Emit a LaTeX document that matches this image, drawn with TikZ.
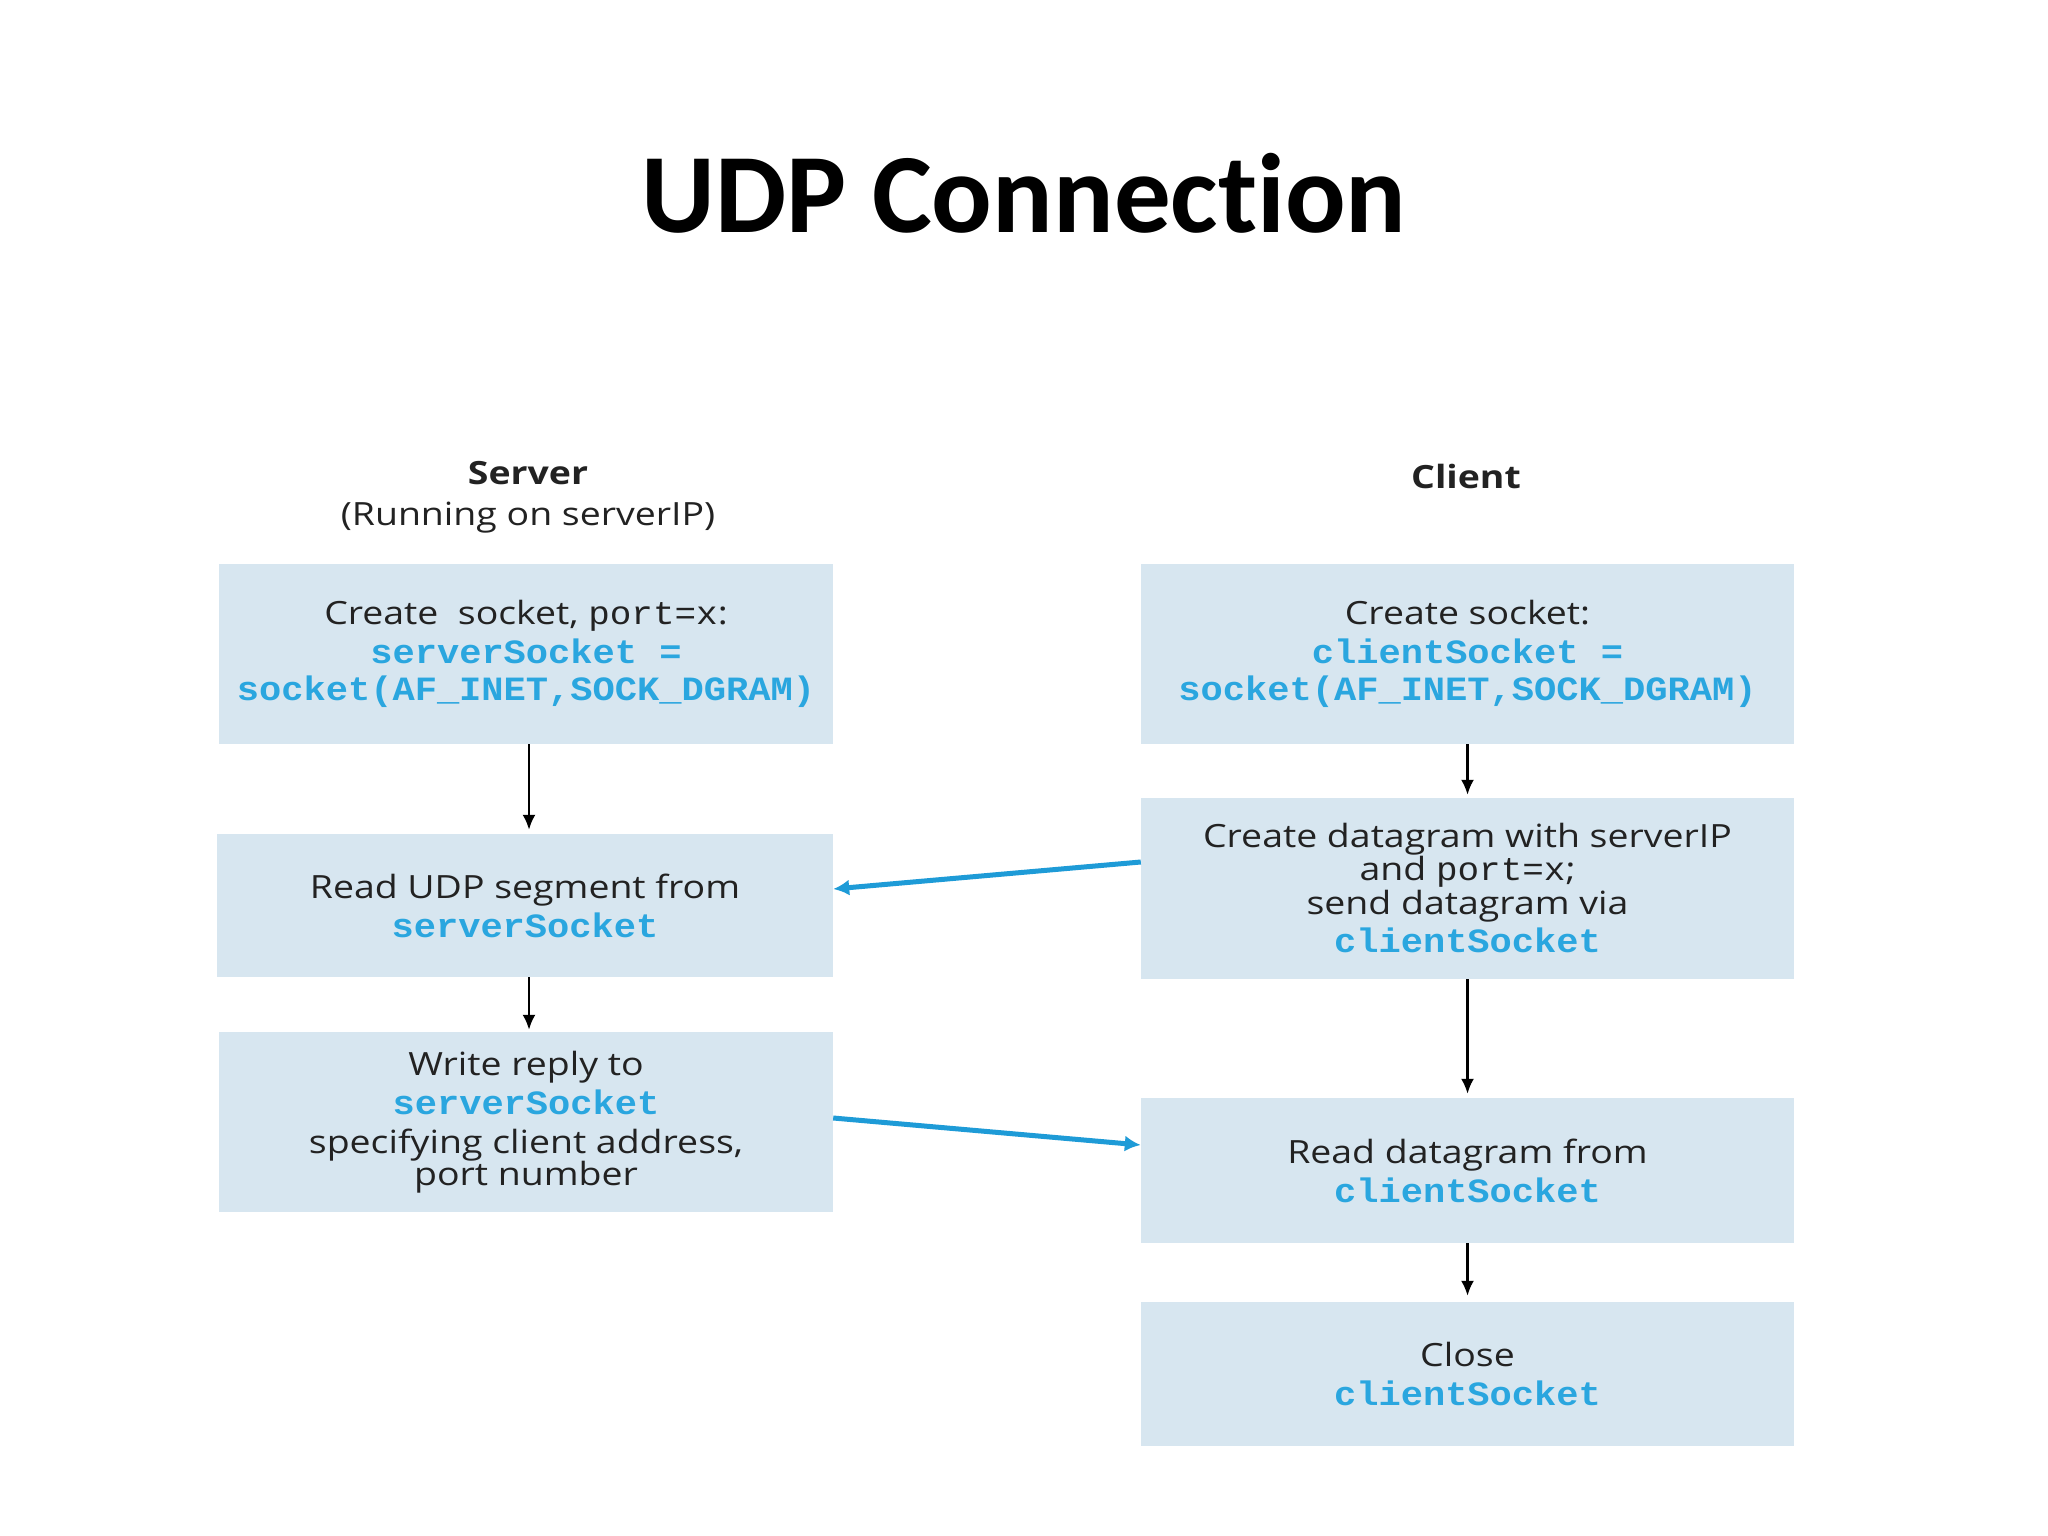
\documentclass[tikz,border=0pt]{standalone}
\usepackage{fontspec}
\setmainfont{Open Sans}[FakeStretch=1.17]
\newfontfamily\titlefont{Carlito}[Ligatures={NoCommon,NoRare}]
\newfontfamily\codefont{Liberation Mono}[FakeStretch=1.09]
\usetikzlibrary{arrows.meta,calc}
\definecolor{boxfill}{HTML}{D7E6F0}
\definecolor{codeblue}{HTML}{2AA6DF}
\definecolor{arrowblue}{HTML}{1E9BD7}
\definecolor{txt}{HTML}{222222}
\newcommand{\cd}[1]{{\codefont\bfseries\fontsize{34}{36}\selectfont\color{codeblue}#1}}
\newcommand{\cdk}[1]{{\codefont\fontsize{33}{36}\selectfont #1}}
\tikzset{
  stepbox/.style={fill=boxfill, draw=none, inner sep=0pt, align=center,
    text=txt, font=\fontsize{32}{39}\selectfont},
  flow/.style={draw=black, line width=2.4pt, -{Latex[length=15pt,width=13pt]}},
  msg/.style={draw=arrowblue, line width=5pt, -{Latex[length=16pt,width=16pt]}},
  head/.style={text=txt, align=center, font=\fontsize{32}{41}\selectfont}
}
\begin{document}
\begin{tikzpicture}[x=1pt,y=-1pt]
\path[fill=white] (0,0) rectangle (2048,1536);
\useasboundingbox (0,0) rectangle (2048,1536);

\node[font=\titlefont\bfseries\fontsize{113}{120}\selectfont] (title) at (1024,193) {UDP Connection};

\node[head] (srv) at (528,497) {\textbf{Server}\\(Running on serverIP)};
\node[head] (cli) at (1466,476) {\textbf{Client}};

\node[stepbox, minimum width=614pt, minimum height=180pt] (S1) at (526,654)
  {Create\ \ socket, \cdk{port=x}:\\[0pt]\cd{serverSocket =}\\[-2pt]\cd{socket(AF\_INET,SOCK\_DGRAM)}};
\node[stepbox, minimum width=616pt, minimum height=143pt] (S2) at (525,905.5)
  {Read UDP segment from\\\cd{serverSocket}};
\node[stepbox, minimum width=614pt, minimum height=180pt] (S3) at (526,1122)
  {Write reply to\\\cd{serverSocket}\\specifying client address,\\[-7pt]port number};

\node[stepbox, minimum width=653pt, minimum height=180pt] (C1) at (1467.5,654)
  {Create socket:\\[0pt]\cd{clientSocket =}\\[-2pt]\cd{socket(AF\_INET,SOCK\_DGRAM)}};
\node[stepbox, minimum width=653pt, minimum height=181pt] (C2) at (1467.5,888.5)
  {Create datagram with serverIP\\[-6pt]and \cdk{port=x};\\[-6pt]send datagram via\\\cd{clientSocket}};
\node[stepbox, minimum width=653pt, minimum height=145pt] (C3) at (1467.5,1170.5)
  {Read datagram from\\\cd{clientSocket}};
\node[stepbox, minimum width=653pt, minimum height=144pt] (C4) at (1467.5,1374)
  {Close\\\cd{clientSocket}};

\coordinate (s1b) at ([xshift=3pt]S1.south);
\coordinate (s2b) at ([xshift=4pt]S2.south);
\draw[flow] (s1b) -- ([yshift=4pt]s1b |- S2.north);
\draw[flow] (s2b) -- ([yshift=2pt]s2b |- S3.north);
\draw[flow] (C1.south) -- ([yshift=3pt]C2.north);
\draw[flow] (C2.south) -- ([yshift=4pt]C3.north);
\draw[flow] (C3.south) -- ([yshift=6pt]C4.north);

\draw[msg] ([yshift=26.5pt]C2.west) -- ([yshift=16.5pt]S2.east);
\draw[msg] ([yshift=4pt]S3.east) -- ([yshift=25.5pt]C3.west);
\end{tikzpicture}
\end{document}
